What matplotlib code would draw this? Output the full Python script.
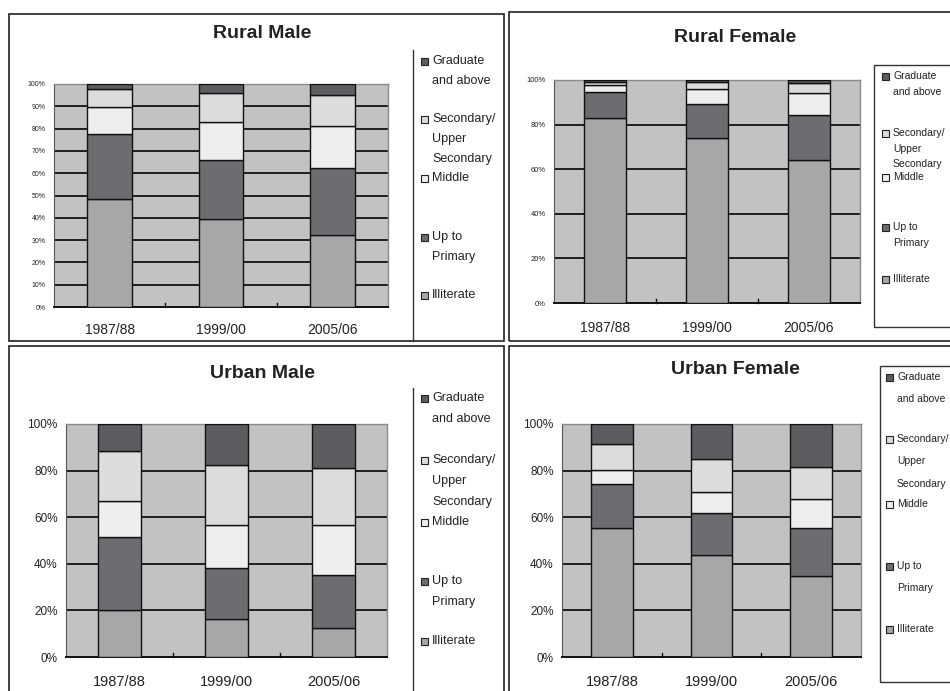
import matplotlib
matplotlib.use("Agg")
import matplotlib.pyplot as plt
from matplotlib.patches import Rectangle
from matplotlib.lines import Line2D
import numpy as np

plt.rcParams['font.family'] = ['Liberation Sans', 'DejaVu Sans']

# ---- data: share of each education level (%, stacked bottom to top) ----
years = ["1987/88", "1999/00", "2005/06"]
levels = ["Illiterate", "Up to\nPrimary", "Middle",
          "Secondary/\nUpper\nSecondary", "Graduate\nand above"]

rural_male_illiterate = [48.3, 39.4, 32.2]
rural_male_primary = [29.4, 26.6, 30.0]
rural_male_middle = [11.8, 16.9, 18.8]
rural_male_secondary = [8.2, 12.9, 14.2]
rural_male_graduate = [2.3, 4.2, 4.8]

rural_female_illiterate = [83.0, 74.1, 64.2]
rural_female_primary = [11.5, 15.0, 20.1]
rural_female_middle = [3.4, 6.7, 9.7]
rural_female_secondary = [1.2, 3.3, 4.5]
rural_female_graduate = [0.9, 0.9, 1.5]

urban_male_illiterate = [20.0, 16.1, 12.4]
urban_male_primary = [31.6, 21.9, 22.6]
urban_male_middle = [15.4, 18.6, 21.6]
urban_male_secondary = [21.6, 26.0, 24.7]
urban_male_graduate = [11.4, 17.4, 18.7]

urban_female_illiterate = [55.3, 43.6, 34.9]
urban_female_primary = [19.1, 18.4, 20.5]
urban_female_middle = [6.0, 8.7, 12.2]
urban_female_secondary = [11.0, 14.2, 14.1]
urban_female_graduate = [8.6, 15.1, 18.3]

panel_titles = ["Rural Male", "Rural Female", "Urban Male", "Urban Female"]

# ---- styling ----
W, H = 950, 691
level_colors = ["#a7a7aa", "#6d6d71", "#eeeeef", "#dcdcdd", "#5d5d61"]
plot_bg = "#c2c2c3"

fig = plt.figure(figsize=(W / 100, H / 100), dpi=100)
fig.patch.set_facecolor("white")


def fx(px):
    return px / W


def fy(py):
    return 1 - py / H


def frame(x0, y0, x1, y1, lw=1.2, color="#222222"):
    fig.add_artist(Rectangle((fx(x0), fy(y1)), fx(x1) - fx(x0), fy(y0) - fy(y1),
                             transform=fig.transFigure, fill=False,
                             edgecolor=color, linewidth=lw, zorder=0.5))


# panel borders
frame(9, 14, 504, 341)
frame(509, 12, 962, 341)
frame(9, 346, 504, 700)
frame(509, 346, 962, 700)


def draw_panel(rect, stacks, title, title_xy, ystep, ytick_fs, xtick_fs, width, xlab_pad):
    x0, y0, x1, y1 = rect
    ax = fig.add_axes([fx(x0), fy(y1), fx(x1) - fx(x0), fy(y0) - fy(y1)])
    ax.set_facecolor(plot_bg)
    x = np.arange(len(years))
    bottom = np.zeros(len(years))
    for vals, col in zip(stacks, level_colors):
        ax.bar(x, vals, width, bottom=bottom, color=col, edgecolor="#111111",
               linewidth=1.0, zorder=3)
        bottom += np.array(vals)
    ax.set_xlim(-0.5, len(years) - 0.5)
    ax.set_ylim(0, 100)
    yt = np.arange(0, 101, ystep)
    ax.set_yticks(yt)
    ax.set_yticklabels([f"{v}%" for v in yt], fontsize=ytick_fs, color="#222222")
    ax.yaxis.grid(True, color="#111111", linewidth=1.3, zorder=1)
    ax.set_axisbelow(True)
    ax.tick_params(axis="y", length=0, pad=6)
    ax.set_xticks(x)
    ax.set_xticklabels(years, fontsize=xtick_fs, color="#222222")
    ax.tick_params(axis="x", length=0, pad=xlab_pad)
    # small category divider ticks on the category axis
    for b in [0.5, 1.5]:
        ax.plot([b, b], [0, 1.6], color="#111111", linewidth=1.0, zorder=4,
                clip_on=False)
    for s in ["top", "right"]:
        ax.spines[s].set_color("#8a8a8a")
        ax.spines[s].set_linewidth(1.0)
    ax.spines["left"].set_color("#555555")
    ax.spines["bottom"].set_color("#111111")
    ax.spines["bottom"].set_linewidth(1.4)
    fig.text(fx(title_xy[0]), fy(title_xy[1]), title, ha="center", va="center",
             fontsize=14, fontweight="bold", color="#222222")
    return ax


def draw_legend(sq_x, text_x, ys, fs, sq, ls):
    # ys: top of the first text line of each entry, listed top to bottom
    order = [4, 3, 2, 1, 0]
    half = fs * 100 / 72 * 0.55
    for idx, y in zip(order, ys):
        fig.add_artist(Rectangle((fx(sq_x), fy(y + half + sq / 2)), fx(sq), sq / H,
                                 transform=fig.transFigure,
                                 facecolor=level_colors[idx],
                                 edgecolor="#222222", linewidth=0.8))
        fig.text(fx(text_x), fy(y), levels[idx], ha="left", va="top",
                 fontsize=fs, color="#222222", linespacing=ls,
                 transform=fig.transFigure)


rm = [rural_male_illiterate, rural_male_primary, rural_male_middle,
      rural_male_secondary, rural_male_graduate]
rf = [rural_female_illiterate, rural_female_primary, rural_female_middle,
      rural_female_secondary, rural_female_graduate]
um = [urban_male_illiterate, urban_male_primary, urban_male_middle,
      urban_male_secondary, urban_male_graduate]
uf = [urban_female_illiterate, urban_female_primary, urban_female_middle,
      urban_female_secondary, urban_female_graduate]

draw_panel((54, 84, 388, 307), rm, panel_titles[0], (262, 33), 10, 5, 10, 0.40, 11.5)
draw_panel((554, 80, 860, 303), rf, panel_titles[1], (735, 38), 20, 5.5, 10, 0.42, 13)
draw_panel((66, 424, 387, 657), um, panel_titles[2], (262, 373), 20, 8.5, 10.5, 0.40, 13)
draw_panel((562, 424, 861, 657), uf, panel_titles[3], (735, 369), 20, 8.5, 10.5, 0.42, 13)

# legend separators / boxes
fig.add_artist(Line2D([fx(413), fx(413)], [fy(50), fy(341)],
                      transform=fig.transFigure, color="#333333", linewidth=1.0))
fig.add_artist(Line2D([fx(413), fx(413)], [fy(388), fy(700)],
                      transform=fig.transFigure, color="#333333", linewidth=1.0))
frame(874, 65, 960, 327, lw=1.0, color="#333333")
frame(880, 366, 960, 682, lw=1.0, color="#333333")

draw_legend(421, 432, [55, 113, 172, 231, 289], 9, 7, 1.9)
draw_legend(882, 893, [71, 128, 172, 222, 274], 7.5, 6.5, 1.7)
draw_legend(421, 432, [392, 454, 516, 575, 635], 9, 7, 2.0)
draw_legend(886, 897, [372, 434, 499, 561, 624], 7.5, 7, 2.55)

fig.savefig("out.png", dpi=100, facecolor="white")
